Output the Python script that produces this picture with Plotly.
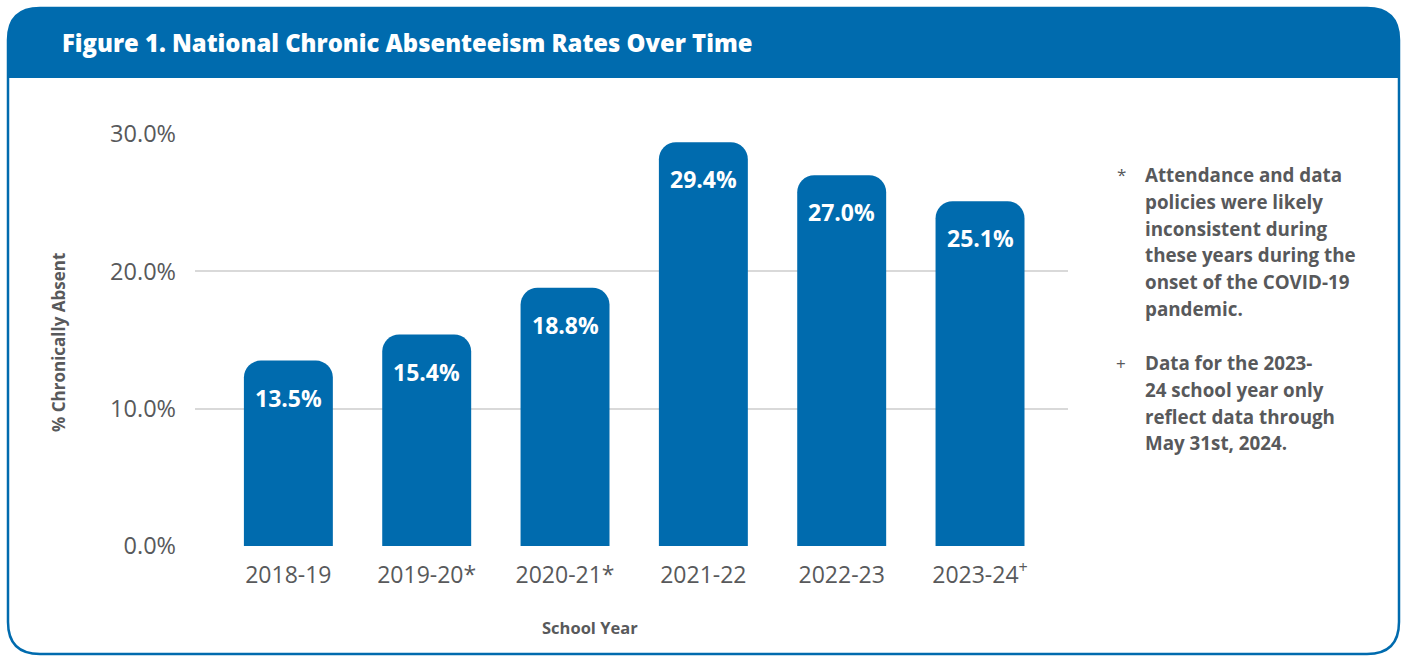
import plotly.graph_objects as go

# Data
school_years = ["2018-19", "2019-20", "2020-21", "2021-22", "2022-23", "2023-24"]
year_labels = ["2018-19", "2019-20*", "2020-21*", "2021-22", "2022-23", "2023-24<sup>+</sup>"]
chronic_absent_pct = [13.5, 15.4, 18.8, 29.4, 27.0, 25.1]

y_ticks = [0, 10, 20, 30]
y_tick_labels = ["0.0%", "10.0%", "20.0%", "30.0%"]

title_text = "Figure 1. National Chronic Absenteeism Rates Over Time"
note_star = ["Attendance and data", "policies were likely", "inconsistent during",
             "these years during the", "onset of the COVID-19", "pandemic."]
note_plus = ["Data for the 2023-", "24 school year only", "reflect data through",
             "May 31st, 2024."]

BLUE = "#006BAE"
GREY_TEXT = "#58595B"
GRID = "#D9D9D9"
FONT = "Open Sans"

# Canvas and plot-area geometry (pixels)
WIDTH, HEIGHT = 1402, 656
L, R, T, B = 195, 1068, 134, 546
PW, PH = R - L, B - T


def px(x):
    return (x - L) / PW


def py(y):
    return (B - y) / PH


def rounded_path(x0, y0, x1, y1, r, round_bottom=True):
    """SVG path (paper coords) for a rectangle given in pixels with rounded corners."""
    rb = r if round_bottom else 0
    pts = []
    pts.append(f"M {px(x0 + r)},{py(y0)}")
    pts.append(f"L {px(x1 - r)},{py(y0)}")
    pts.append(f"Q {px(x1)},{py(y0)} {px(x1)},{py(y0 + r)}")
    pts.append(f"L {px(x1)},{py(y1 - rb)}")
    if rb:
        pts.append(f"Q {px(x1)},{py(y1)} {px(x1 - rb)},{py(y1)}")
    pts.append(f"L {px(x0 + rb)},{py(y1)}")
    if rb:
        pts.append(f"Q {px(x0)},{py(y1)} {px(x0)},{py(y1 - rb)}")
    pts.append(f"L {px(x0)},{py(y0 + r)}")
    pts.append(f"Q {px(x0)},{py(y0)} {px(x0 + r)},{py(y0)}")
    pts.append("Z")
    return " ".join(pts)


fig = go.Figure()
fig.add_trace(go.Bar(
    x=school_years,
    y=chronic_absent_pct,
    marker=dict(color=BLUE, line=dict(width=0)),
    width=0.643,
    hoverinfo="skip",
))

shapes = [
    # header band
    dict(type="path", xref="paper", yref="paper",
         path=rounded_path(8, 8, 1399, 78, 32, round_bottom=False),
         fillcolor=BLUE, line=dict(width=0), layer="below"),
    # outer frame
    dict(type="path", xref="paper", yref="paper",
         path=rounded_path(8, 8, 1399, 654, 32),
         fillcolor="rgba(0,0,0,0)", line=dict(color=BLUE, width=2.5)),
]

annotations = [
    dict(text=title_text, xref="paper", yref="paper",
         x=px(60), y=py(43), xanchor="left", yanchor="middle", showarrow=False,
         font=dict(family=FONT, size=23.8, color="white", weight=800)),
    dict(text="<b>% Chronically Absent</b>", xref="paper", yref="paper",
         x=px(58), y=py(343), xanchor="center", yanchor="middle", textangle=-90,
         showarrow=False, font=dict(family=FONT, size=17, color=GREY_TEXT)),
    dict(text="<b>School Year</b>", xref="paper", yref="paper",
         x=px(590), y=py(627), xanchor="center", yanchor="middle",
         showarrow=False, font=dict(family=FONT, size=16.5, color=GREY_TEXT)),
]

# value labels inside the bars
for yr, v in zip(school_years, chronic_absent_pct):
    annotations.append(dict(
        text=f"<b>{v:.1f}%</b>", x=yr, y=v, xref="x", yref="y",
        xanchor="center", yanchor="top", yshift=-19, showarrow=False,
        font=dict(family=FONT, size=23, color="white")))

# footnotes
LINE_H = 26.8
for marker, lines, y_start in (("*", note_star, 175), ("+", note_plus, 363)):
    annotations.append(dict(
        text=marker, xref="paper", yref="paper", x=px(1121), y=py(y_start),
        xanchor="center", yanchor="middle", showarrow=False,
        font=dict(family=FONT, size=17, color=GREY_TEXT)))
    for i, line in enumerate(lines):
        annotations.append(dict(
            text=f"<b>{line}</b>", xref="paper", yref="paper",
            x=px(1143), y=py(y_start + i * LINE_H), xanchor="left", yanchor="middle",
            showarrow=False, font=dict(family=FONT, size=18.8, color=GREY_TEXT)))

fig.update_layout(
    width=WIDTH, height=HEIGHT,
    margin=dict(l=L, r=WIDTH - R, t=T, b=HEIGHT - B, pad=0),
    paper_bgcolor="white", plot_bgcolor="white",
    showlegend=False,
    barcornerradius=17,
    shapes=shapes,
    annotations=annotations,
    font=dict(family=FONT, color=GREY_TEXT),
    xaxis=dict(
        range=[-0.675, 5.636], tickmode="array", tickvals=school_years, ticktext=year_labels,
        showgrid=False, zeroline=False, showline=False, ticks="",
        tickfont=dict(family=FONT, size=23, color=GREY_TEXT), ticklabelstandoff=13,
        fixedrange=True,
    ),
    yaxis=dict(
        range=[0, 30], tickmode="array", tickvals=y_ticks, ticktext=y_tick_labels,
        showgrid=True, gridcolor=GRID, gridwidth=2, zeroline=False, showline=False, ticks="",
        tickfont=dict(family=FONT, size=23.5, color=GREY_TEXT), ticklabelstandoff=18,
        fixedrange=True,
    ),
)

fig.write_html("out.html", config={"displayModeBar": False})
